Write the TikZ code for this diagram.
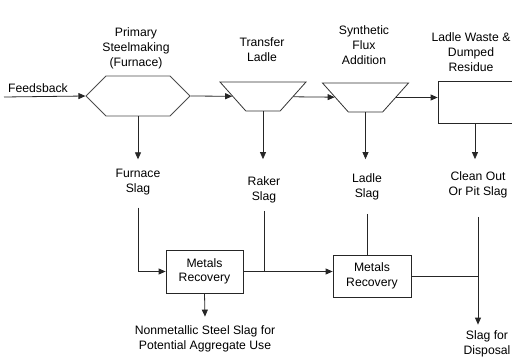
\documentclass[tikz,border=0pt]{standalone}
\usepackage{fontspec}
\setmainfont{Liberation Sans}
\usetikzlibrary{arrows.meta,shapes.geometric,shapes.symbols}

\begin{document}
\begin{tikzpicture}[x=1pt, y=-1pt, >={Triangle[length=7pt,width=6pt]},
  flow/.style={draw=black!85, line width=0.8pt},
  lbl/.style={align=center, inner sep=2pt, font=\fontsize{12.2}{15}\selectfont},
  ladle/.style={draw=black!80, line width=0.8pt, trapezium, trapezium left angle=53, trapezium right angle=53,
    shape border rotate=180, trapezium stretches=true, minimum width=86pt, minimum height=29pt, inner sep=1pt},
  furnace/.style={draw=black!70, line width=0.8pt, signal, signal to=west and east, signal pointer angle=90,
    minimum width=104pt, minimum height=40pt, inner sep=1pt},
  unit/.style={draw=black!85, line width=0.8pt, rectangle, align=center, inner sep=0pt,
    font=\fontsize{12.2}{14.5}\selectfont}]
  \useasboundingbox (0,0) rectangle (512,361);
  \clip (0,0) rectangle (512,361);

  \node[furnace] (hex) at (138,96) {};
  \node[ladle] (tl) at (263,96.5) {};
  \node[ladle] (sfa) at (365.5,97.5) {};
  \node[unit, minimum width=76pt, minimum height=42pt] (dump) at (476,102) {};
  \node[unit, minimum width=77pt, minimum height=43pt] (mr1) at (204.5,271.5) {Metals\\Recovery};
  \node[unit, minimum width=78pt, minimum height=42pt] (mr2) at (372,276) {Metals\\Recovery};

  \node[lbl] (fb) at (38,88) {Feedsback};
  \coordinate (fin) at (4,97);
  \node[lbl] (psm) at (136,48) {Primary\\Steelmaking\\(Furnace)};
  \node[lbl] (tll) at (262,49.5) {Transfer\\Ladle};
  \node[lbl] (sfl) at (364,45) {Synthetic\\Flux\\Addition};
  \node[lbl] (lwd) at (471,52) {Ladle Waste \&\\Dumped\\Residue};

  \node[lbl] (fslag) at (138,182.5) {Furnace\\Slag};
  \node[lbl] (rslag) at (264,189.5) {Raker\\Slag};
  \node[lbl] (lslag) at (367,186.5) {Ladle\\Slag};
  \node[lbl] (coslag) at (478,184.5) {Clean Out\\Or Pit Slag};
  \node[lbl] (agg) at (205,339) {Nonmetallic Steel Slag for\\Potential Aggregate Use};
  \node[lbl] (disp) at (487,344) {Slag for\\Disposal};

  \draw[flow,->] (fin) -- (hex.west);
  \draw[flow,->] (hex.east) -- (tl);
  \draw[flow,->] (tl) -- (sfa);
  \draw[flow,->] (sfa) -- (sfa -| dump.west);
  \draw[flow,->] (hex.south) -- ([yshift=8pt]fslag.north);
  \draw[flow,->] (tl.south) -- ([yshift=15pt]tl.south |- rslag.north);
  \draw[flow,->] (sfa.south) -- ([yshift=12pt]sfa.south |- lslag.north);
  \draw[flow,->] ([xshift=-1pt]dump.south) -- ([xshift=-1pt,yshift=10pt]dump.south |- coslag.north);

  \draw[flow,->] ([yshift=-10pt]fslag.south) |- (mr1.west);
  \draw[flow] ([yshift=-6pt]rslag.south) -- (rslag |- mr1.east);
  \draw[flow,->] (mr1.east) -- (mr1.east -| mr2.west);
  \draw[flow] ([yshift=-12pt]lslag.south) -- (lslag.south |- mr2.north);
  \draw[flow] (mr2.east) -- (mr2.east -| coslag);
  \draw[flow,->] ([yshift=-17pt]coslag.south) -- ([yshift=4pt]coslag.south |- disp.north);
  \draw[flow,->] (mr1.south) -- ([yshift=7pt]agg.north);
\end{tikzpicture}
\end{document}
